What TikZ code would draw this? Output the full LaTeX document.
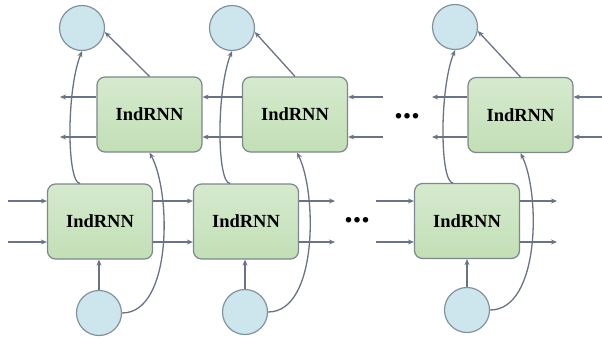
\documentclass[tikz,border=0pt]{standalone}
\usepackage{fontspec}
\setmainfont{Liberation Serif}
\usetikzlibrary{arrows.meta,calc}
\definecolor{boxtop}{RGB}{214,234,206}
\definecolor{boxbot}{RGB}{194,223,182}
\definecolor{boxline}{RGB}{125,135,140}
\definecolor{circfill}{RGB}{205,230,238}
\definecolor{circline}{RGB}{130,145,158}
\definecolor{arrowc}{RGB}{105,115,132}
\begin{document}
\begin{tikzpicture}[x=1pt,y=-1pt,
  cell/.style={draw=boxline, line width=1.2pt, rounded corners=8pt,
    minimum width=105pt, minimum height=75pt, inner sep=0pt,
    top color=boxtop, bottom color=boxbot,
    font=\fontsize{18.5}{20}\selectfont\bfseries},
  unit/.style={circle, draw=circline, line width=1.2pt, fill=circfill,
    minimum size=45pt, inner sep=0pt},
  conn/.style={draw=arrowc, line width=1.3pt, -{Stealth[length=6pt,width=5pt]}},
  dotsx/.style={font=\fontsize{34}{34}\selectfont\bfseries, inner sep=0pt}]
\useasboundingbox (0,0) rectangle (602,338);

% boxes
\node[cell] (b1) at (100,221.5) {IndRNN};
\node[cell] (b2) at (246,221.5) {IndRNN};
\node[cell] (b3) at (467,221) {IndRNN};
\node[cell] (t1) at (149.5,114.5) {IndRNN};
\node[cell] (t2) at (295,114.5) {IndRNN};
\node[cell] (t3) at (520.5,115) {IndRNN};

% circles
\node[unit] (c1) at (82,28) {};
\node[unit] (c2) at (232,28) {};
\node[unit] (c3) at (455,27) {};
\node[unit] (d1) at (99,313) {};
\node[unit] (d2) at (245,312) {};
\node[unit] (d3) at (467,310) {};

% dots
\node[dotsx] (dotsT) at (407,116) {...};
\node[dotsx] (dotsB) at (357,220) {...};

% free ends
\coordinate (i1a) at (8,201);  \coordinate (i1b) at (8,242);
\coordinate (o2a) at (335,201); \coordinate (o2b) at (335,242);
\coordinate (i3a) at (376,201); \coordinate (i3b) at (376,242);
\coordinate (o3a) at (557,201); \coordinate (o3b) at (557,242);
\coordinate (o1a) at (60,97);  \coordinate (o1b) at (60,137);
\coordinate (i2a) at (383,97); \coordinate (i2b) at (383,137);
\coordinate (o4a) at (432,97); \coordinate (o4b) at (432,137);
\coordinate (i4a) at (602,97); \coordinate (i4b) at (602,137);

% bottom row horizontals
\draw[conn] (i1a) -- (b1.west |- i1a);
\draw[conn] (i1b) -- (b1.west |- i1b);
\draw[conn] (b1.east |- i1a) -- (b2.west |- i1a);
\draw[conn] (b1.east |- i1b) -- (b2.west |- i1b);
\draw[conn] (b2.east |- o2a) -- (o2a);
\draw[conn] (b2.east |- o2b) -- (o2b);
\draw[conn] (i3a) -- (b3.west |- i3a);
\draw[conn] (i3b) -- (b3.west |- i3b);
\draw[conn] (b3.east |- o3a) -- (o3a);
\draw[conn] (b3.east |- o3b) -- (o3b);

% top row horizontals
\draw[conn] (t1.west |- o1a) -- (o1a);
\draw[conn] (t1.west |- o1b) -- (o1b);
\draw[conn] (t2.west |- o1a) -- (t1.east |- o1a);
\draw[conn] (t2.west |- o1b) -- (t1.east |- o1b);
\draw[conn] (i2a) -- (t2.east |- i2a);
\draw[conn] (i2b) -- (t2.east |- i2b);
\draw[conn] (t3.west |- o4a) -- (o4a);
\draw[conn] (t3.west |- o4b) -- (o4b);
\draw[conn] (i4a) -- (t3.east |- i4a);
\draw[conn] (i4b) -- (t3.east |- i4b);

% inputs to bottom boxes
\draw[conn] (d1) -- (b1.south -| d1);
\draw[conn] (d2) -- (b2.south -| d2);
\draw[conn] (d3) -- (b3.south -| d3);

% top boxes to top circles
\draw[conn] (t1.north) -- (c1.-10);
\draw[conn] (t2.north) -- (c2.-10);
\draw[conn] (t3.north) -- (c3.-10);

% bottom boxes to top circles
\draw[conn] ([xshift=-20pt]b1.north) .. controls ($([xshift=-20pt]b1.north)+(-13,0)$) and ($(c1.south)+(-16,40)$) .. (c1.south);
\draw[conn] ([xshift=-16pt]b2.north) .. controls ($([xshift=-16pt]b2.north)+(-13,0)$) and ($(c2.south)+(-16,40)$) .. (c2.south);
\draw[conn] ([xshift=-14pt]b3.north) .. controls ($([xshift=-14pt]b3.north)+(-13,0)$) and ($(c3.south)+(-16,40)$) .. (c3.south);

% bottom circles to top boxes
\draw[conn] (d1.east) .. controls ($(d1.east)+(50,0)$) and ($(t1.south)+(22,40)$) .. (t1.south);
\draw[conn] (d2.east) .. controls ($(d2.east)+(50,0)$) and ($(t2.south)+(22,40)$) .. ([xshift=2pt]t2.south);
\draw[conn] (d3.east) .. controls ($(d3.east)+(50,0)$) and ($(t3.south)+(20,40)$) .. (t3.south);
\end{tikzpicture}
\end{document}
